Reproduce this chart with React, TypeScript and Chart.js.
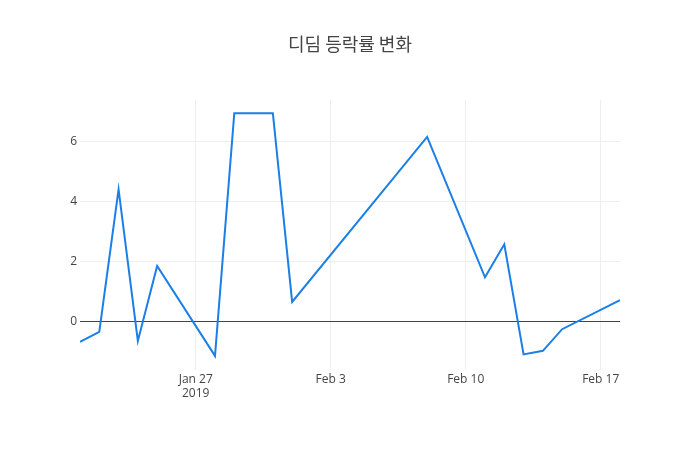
import React, { useEffect, useRef } from "react";
import { Chart, registerables } from "chart.js";

Chart.register(...registerables);

const chartTitle = "디딤 등락률 변화";
const dates = [
  "2019-01-21", "2019-01-22", "2019-01-23", "2019-01-24", "2019-01-25",
  "2019-01-28", "2019-01-29", "2019-01-30", "2019-01-31", "2019-02-01",
  "2019-02-08", "2019-02-11", "2019-02-12", "2019-02-13", "2019-02-14",
  "2019-02-15", "2019-02-18",
];
const changeRates = [
  -0.69, -0.36, 4.39, -0.66, 1.84,
  -1.16, 6.93, 6.93, 6.93, 0.64,
  6.14, 1.46, 2.56, -1.11, -0.99,
  -0.27, 0.70,
];
const xTickDates = ["2019-01-27", "2019-02-03", "2019-02-10", "2019-02-17"];
const xTickLabels: (string | string[])[] = [["Jan 27", "2019"], "Feb 3", "Feb 10", "Feb 17"];
const yTickValues = [0, 2, 4, 6];
const xRangeDates = ["2019-01-21", "2019-02-18"];
const yRange = [-1.63, 7.37];

const DAY = 86400000;
const base = Date.parse(xRangeDates[0] + "T00:00:00Z");
const toDay = (d: string) => (Date.parse(d + "T00:00:00Z") - base) / DAY;

const titlePlugin = {
  id: "centerTitle",
  afterDraw(chart: any) {
    const ctx = chart.ctx;
    ctx.save();
    ctx.fillStyle = "#444";
    ctx.font = "18px 'Noto Sans CJK KR', 'Open Sans', sans-serif";
    ctx.textAlign = "center";
    ctx.textBaseline = "middle";
    ctx.fillText(chartTitle, chart.width / 2, 44);
    ctx.restore();
  },
};

export default function App() {
  const ref = useRef<HTMLCanvasElement | null>(null);
  useEffect(() => {
    if (!ref.current) return;
    const points = dates.map((d, i) => ({ x: toDay(d), y: changeRates[i] }));
    const xTicks = xTickDates.map(toDay);
    const chart = new Chart(ref.current, {
      type: "line",
      data: {
        datasets: [
          {
            data: points,
            borderColor: "#1a7fe6",
            borderWidth: 2,
            pointRadius: 0,
            tension: 0,
            fill: false,
          },
        ],
      },
      plugins: [titlePlugin],
      options: {
        animation: false,
        responsive: false,
        layout: { padding: { left: 0, right: 80, top: 100, bottom: 0 } },
        plugins: {
          legend: { display: false },
          tooltip: { enabled: false },
          title: { display: false },
        },
        scales: {
          x: {
            type: "linear",
            min: toDay(xRangeDates[0]),
            max: toDay(xRangeDates[1]),
            afterBuildTicks: (s: any) => {
              s.ticks = xTicks.map((v) => ({ value: v }));
            },
            afterFit: (s: any) => {
              s.height = 80;
            },
            ticks: {
              autoSkip: false,
              maxRotation: 0,
              padding: 2,
              color: "#444",
              font: { family: "'Open Sans', sans-serif", size: 12 },
              callback: (v: any) => {
                const i = xTicks.indexOf(Number(v));
                return i >= 0 ? xTickLabels[i] : "";
              },
            },
            grid: { color: "#eee", lineWidth: 1, drawTicks: false },
            border: { display: false },
          },
          y: {
            type: "linear",
            min: yRange[0],
            max: yRange[1],
            afterBuildTicks: (s: any) => {
              s.ticks = yTickValues.map((v) => ({ value: v }));
            },
            afterFit: (s: any) => {
              s.width = 80;
            },
            ticks: {
              padding: 3,
              color: "#444",
              font: { family: "'Open Sans', sans-serif", size: 12 },
              callback: (v: any) => String(v),
            },
            grid: {
              drawTicks: false,
              color: (ctx: any) => (ctx.tick && ctx.tick.value === 0 ? "#444" : "#eee"),
              lineWidth: 1,
            },
            border: { display: false },
          },
        },
      },
    });
    return () => chart.destroy();
  }, []);
  return (
    <div style={{ position: "fixed", left: 0, top: 0, width: 700, height: 450, background: "#fff" }}>
      <canvas ref={ref} width={700} height={450} style={{ width: 700, height: 450 }} />
    </div>
  );
}
